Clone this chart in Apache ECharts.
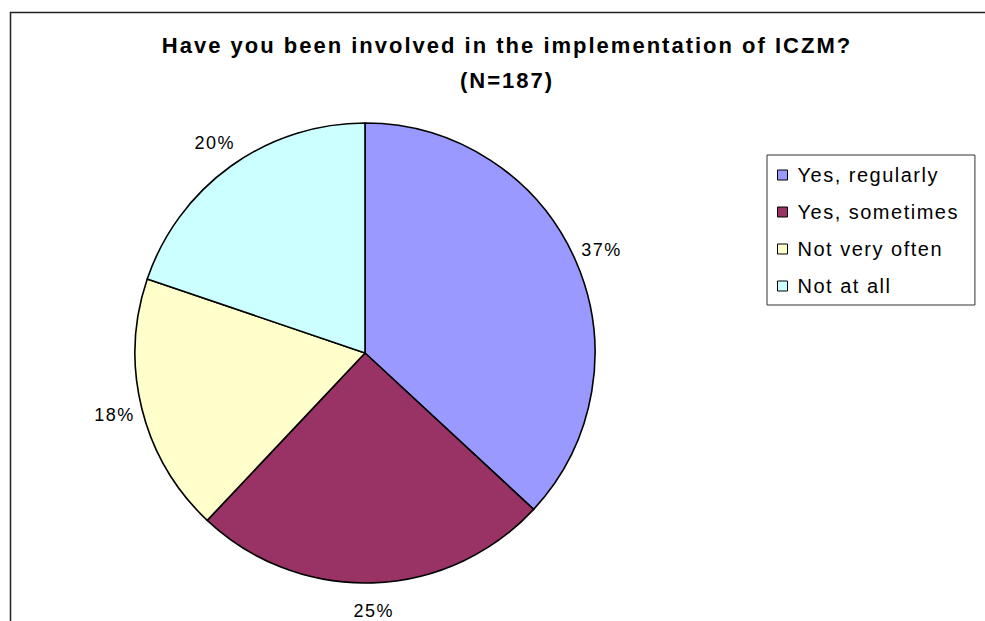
<!DOCTYPE html>
<html>
<head>
<meta charset="utf-8">
<script src="https://cdn.jsdelivr.net/npm/echarts@6/dist/echarts.min.js"></script>
<style>
  html, body { margin: 0; padding: 0; background: #fff; }
  #chart { width: 985px; height: 621px; }
  /* the original chart has loosely spaced lettering */
  #chart text { letter-spacing: 1.5px; }
  #chart text[style*="bold"] { letter-spacing: 2px; }
</style>
</head>
<body>
<div id="chart"></div>
<script>
// answers and number of respondents (N=187)
var categories = ['Yes, regularly', 'Yes, sometimes', 'Not very often', 'Not at all'];
var counts = [69, 47, 34, 37];
var colors = ['#9999ff', '#993366', '#ffffcc', '#ccffff'];

var pieData = [];
var labelData = [];
for (var i = 0; i < categories.length; i++) {
  pieData.push({ name: categories[i], value: counts[i], itemStyle: { color: colors[i] } });
  labelData.push({ name: categories[i], value: counts[i] });
}

var chart = echarts.init(document.getElementById('chart'), null, { renderer: 'svg' });
var font = 'Liberation Sans, Arial, sans-serif';
var option = {
  animation: false,
  textStyle: { fontFamily: font },
  graphic: [{
    type: 'rect',
    left: 8, top: 10,
    shape: { width: 1200, height: 900 },
    style: { fill: 'none', stroke: '#222', lineWidth: 1.5 },
    silent: true
  }],
  title: {
    text: 'Have you been involved in the implementation of ICZM?\n(N=187)',
    left: 502,
    textAlign: 'center',
    top: 23,
    textStyle: {
      fontSize: 22,
      fontWeight: 'bold',
      color: '#000',
      lineHeight: 35,
      fontFamily: font
    }
  },
  legend: {
    orient: 'vertical',
    left: 767,
    top: 155,
    padding: [10, 37, 9, 10],
    itemGap: 17,
    itemWidth: 10,
    itemHeight: 10,
    icon: 'rect',
    borderColor: '#333',
    borderWidth: 1,
    itemStyle: { borderColor: '#000', borderWidth: 1 },
    textStyle: { fontSize: 20, color: '#000', padding: [0, 0, 0, 5], fontFamily: font },
    data: categories
  },
  series: [{
    type: 'pie',
    center: [365, 353],
    radius: 230,
    startAngle: 90,
    clockwise: true,
    itemStyle: { borderColor: '#000', borderWidth: 1.6 },
    label: { show: false },
    labelLine: { show: false },
    emphasis: { disabled: true },
    data: pieData
  }, {
    // transparent ring that only carries the percentage labels, centred outside the pie
    type: 'pie',
    center: [365, 353],
    radius: [245, 265],
    startAngle: 90,
    clockwise: true,
    silent: true,
    itemStyle: { color: 'rgba(0,0,0,0)', borderWidth: 0 },
    label: {
      show: true,
      position: 'inside',
      formatter: function (p) { return Math.round(p.percent) + '%'; },
      fontSize: 18,
      color: '#000',
      fontFamily: font
    },
    labelLine: { show: false },
    emphasis: { disabled: true },
    data: labelData
  }]
};
chart.setOption(option);
</script>
</body>
</html>
